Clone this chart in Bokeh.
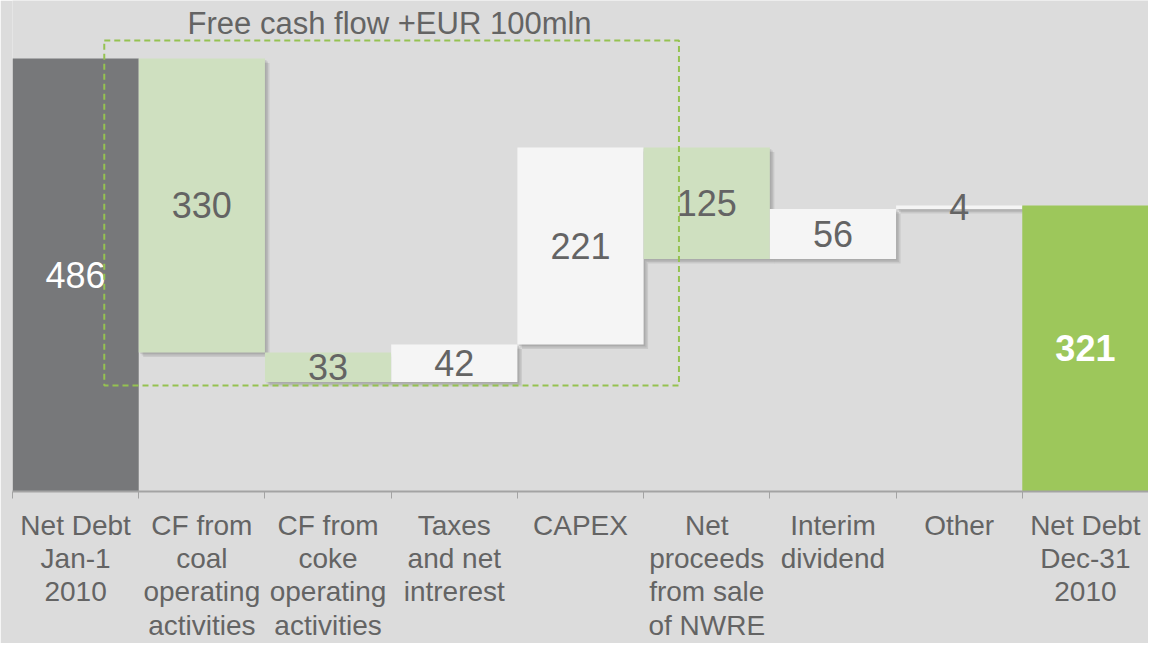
from bokeh.plotting import figure
from bokeh.models import ColumnDataSource, Range1d, LinearAxis, FixedTicker
from bokeh.core.properties import value
from bokeh.embed import file_html
from bokeh.resources import INLINE

# ---- data ----
categories = ["Net Debt\nJan-1\n2010", "CF from\ncoal\noperating\nactivities",
              "CF from\ncoke\noperating\nactivities", "Taxes\nand net\nintrerest",
              "CAPEX", "Net\nproceeds\nfrom sale\nof NWRE", "Interim\ndividend",
              "Other", "Net Debt\nDec-31\n2010"]
start_value = 486
changes = [-330, -33, 42, 221, -125, 56, 4]
end_value = 321
title_text = "Free cash flow +EUR 100mln"

C_START = "#77787a"
C_DEC = "#cfe0c0"
C_INC = "#f5f5f5"
C_END = "#9dc75b"
C_TEXT = "#646464"
BG = "#dcdcdc"
FONT = value("Liberation Sans")

# ---- waterfall geometry ----
lefts, rights, bottoms, tops, colors, labels = [], [], [], [], [], []
lefts.append(0); rights.append(1); bottoms.append(0); tops.append(start_value)
colors.append(C_START); labels.append(str(start_value))
run = start_value
for i, d in enumerate(changes):
    new = run + d
    lefts.append(i + 1); rights.append(i + 2)
    bottoms.append(min(run, new)); tops.append(max(run, new))
    colors.append(C_INC if d > 0 else C_DEC)
    labels.append(str(abs(d)))
    run = new
n = len(categories)
lefts.append(n - 1); rights.append(n); bottoms.append(0); tops.append(end_value)
colors.append(C_END); labels.append(str(end_value))

mids = [(a + b) / 2 for a, b in zip(bottoms, tops)]
xc = [l + 0.5 for l in lefts]

Y_MAX = 551
p = figure(width=1148, height=643, output_backend="svg", toolbar_location=None,
           x_range=Range1d(0, n), y_range=Range1d(0, Y_MAX),
           x_axis_location=None, y_axis_location=None,
           min_border_left=12, min_border_right=0, min_border_top=0, min_border_bottom=0)
p.background_fill_color = BG
p.border_fill_color = BG
p.outline_line_color = None
p.grid.visible = False

# shadows for floating bars
fl = list(range(1, n - 1))
px_x = n / 1136.0
px_y = Y_MAX / 492.0
for off in (1.5, 3.0, 4.5):
    p.quad(left=[lefts[i] + off * px_x for i in fl], right=[rights[i] + off * px_x for i in fl],
           top=[tops[i] - off * px_y for i in fl], bottom=[bottoms[i] - off * px_y for i in fl],
           fill_color="#505050", fill_alpha=0.13, line_color=None)

src = ColumnDataSource(dict(left=lefts, right=rights, top=tops, bottom=bottoms, color=colors))
p.quad(left="left", right="right", top="top", bottom="bottom", fill_color="color",
       line_color=None, source=src)

# value labels
p.text(x=[xc[0]], y=[mids[0]], text=[labels[0]], text_color="white", text_font=FONT,
       text_font_size="36px", text_align="center", text_baseline="middle")
p.text(x=xc[1:-1], y=mids[1:-1], text=labels[1:-1], text_color=C_TEXT, text_font=FONT,
       text_font_size="36px", text_align="center", text_baseline="middle")
p.text(x=[xc[-1]], y=[mids[-1]], text=[labels[-1]], text_color="white", text_font=FONT,
       text_font_size="36px", text_font_style="bold", text_align="center", text_baseline="middle")

# free cash flow box
p.quad(left=[0.727], right=[5.28], top=[506], bottom=[119], fill_alpha=0,
       line_color="#95c251", line_width=2, line_dash="6 4")
p.text(x=[1.387], y=[525], text=[title_text], text_color=C_TEXT, text_font=FONT,
       text_font_size="31px", text_align="left", text_baseline="middle")

# x axis
ax = LinearAxis(ticker=FixedTicker(ticks=xc, minor_ticks=list(range(n + 1))))
ax.major_label_overrides = {x: c for x, c in zip(xc, categories)}
ax.axis_line_color = "#a3a3a3"
ax.axis_line_width = 2
ax.major_tick_line_color = None
ax.major_tick_out = 0
ax.major_tick_in = 0
ax.minor_tick_line_color = "#a3a3a3"
ax.minor_tick_line_width = 1
ax.minor_tick_out = 7
ax.minor_tick_in = 0
ax.major_label_text_font = "Liberation Sans"
ax.major_label_text_font_size = "28px"
ax.major_label_text_color = C_TEXT
ax.major_label_text_line_height = 1.08
ax.major_label_standoff = 11
p.add_layout(ax, "below")

open("out.html", "w").write(file_html(p, INLINE))
